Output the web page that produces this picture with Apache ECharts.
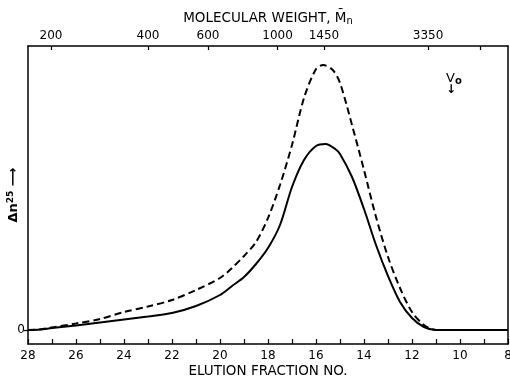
<!DOCTYPE html>
<html>
<head>
<meta charset="utf-8">
<script src="https://cdn.jsdelivr.net/npm/echarts@6/dist/echarts.min.js"></script>
<style>
  html, body { margin: 0; padding: 0; background: #fff; }
  #chart { width: 510px; height: 377px; }
</style>
</head>
<body>
<div id="chart"></div>
<script>
// elution fraction no. (x) and refractive index difference (arbitrary units)
const solidFractions = [28, 27.5, 27, 26, 25, 24, 23, 22, 21, 20, 19.5, 19, 18.5, 18, 17.5, 17, 16.5, 16, 15.6, 15.2, 15, 14.5, 14, 13.5, 13, 12.5, 12, 11.5, 11, 10, 8];
const solidValues = [0, 0.5, 2, 4.5, 7.5, 10.5, 13.5, 17, 24, 35, 44, 53, 66, 82, 105, 143, 170, 184, 186, 181, 176, 153, 121, 85, 54, 28, 12, 3, 0, 0, 0];

const dashedFractions = [28, 27.5, 27, 26, 25, 24, 23, 22, 21, 20, 19.5, 19, 18.5, 18, 17.5, 17, 16.5, 16, 15.7, 15.3, 15, 14.5, 14, 13.5, 13, 12.5, 12, 11.5, 11, 10, 8];
const dashedValues = [0, 0.5, 2.5, 6.5, 11, 18, 23.5, 30, 40, 52, 62, 74, 88, 112, 145, 185, 232, 261, 265, 260, 247, 205, 160, 113, 73, 42, 18, 5, 0, 0, 0];

// molecular weight scale on top, positioned by elution fraction
const mwPositions = [27.04, 23.0, 20.5, 17.6, 15.67, 11.33];
const mwLabels = ['200', '400', '600', '1000', '1450', '3350'];
const mwExtraTicks = [9.17];

const font = 'DejaVu Sans';
const chart = echarts.init(document.getElementById('chart'));

const option = {
    animation: false,
    backgroundColor: '#fff',
    grid: { left: 28, right: 2, top: 46, bottom: 33, outerBoundsMode: 'none' },
    xAxis: [
        {
            type: 'value', min: 8, max: 28, interval: 1, inverse: true,
            position: 'bottom',
            name: 'ELUTION FRACTION NO.', nameLocation: 'middle', nameGap: 20, nameMoveOverlap: false,
            nameTextStyle: { fontFamily: font, fontSize: 13.5, color: '#000' },
            axisLine: { show: true, onZero: false, lineStyle: { color: '#000', width: 1.5 } },
            axisTick: { inside: true, length: 5, lineStyle: { color: '#000', width: 1.2 } },
            axisLabel: {
                margin: 6, fontFamily: font, fontSize: 12, color: '#000',
                formatter: v => (v % 2 === 0 ? String(v) : '')
            },
            splitLine: { show: false }
        },
        {
            type: 'value', min: 8, max: 28, inverse: true,
            position: 'top',
            name: '{t|MOLECULAR WEIGHT, M\u0304}{s|n}', nameLocation: 'middle', nameGap: 20, nameMoveOverlap: false,
            nameTextStyle: {
                rich: {
                    t: { fontFamily: font, fontSize: 13.5, color: '#000' },
                    s: { fontFamily: font, fontSize: 10, color: '#000', padding: [6, 0, 0, 0] }
                }
            },
            axisLine: { show: true, onZero: false, lineStyle: { color: '#000', width: 1.5 } },
            axisTick: { inside: true, length: 4, customValues: mwPositions.concat(mwExtraTicks), lineStyle: { color: '#000', width: 1.2 } },
            axisLabel: {
                margin: 4, fontFamily: font, fontSize: 12, color: '#000',
                customValues: mwPositions,
                formatter: v => {
                    let best = 0;
                    mwPositions.forEach((p, i) => { if (Math.abs(p - v) < Math.abs(mwPositions[best] - v)) best = i; });
                    return mwLabels[best];
                }
            },
            splitLine: { show: false }
        }
    ],
    yAxis: [
        {
            type: 'value', min: -14, max: 284,
            name: '{t|\u0394n}{s|25}{t| \u27f6}', nameLocation: 'middle', nameGap: 6, nameRotate: 90, nameMoveOverlap: false,
            nameTextStyle: {
                rich: {
                    t: { fontFamily: font, fontSize: 13, color: '#000', fontWeight: 'bold' },
                    s: { fontFamily: font, fontSize: 9, color: '#000', fontWeight: 'bold', padding: [0, 0, 7, 0] }
                }
            },
            axisLine: { show: true, onZero: false, lineStyle: { color: '#000', width: 1.5 } },
            axisTick: { show: true, length: 4, customValues: [0], lineStyle: { color: '#000', width: 1.2 } },
            axisLabel: { margin: 3, fontFamily: font, fontSize: 12, color: '#000', customValues: [0] },
            splitLine: { show: false }
        },
        {
            type: 'value', min: -14, max: 284, position: 'right',
            axisLine: { show: true, onZero: false, lineStyle: { color: '#000', width: 1.5 } },
            axisTick: { show: false }, axisLabel: { show: false }, splitLine: { show: false }
        }
    ],
    series: [
        {
            type: 'line', smooth: 0.3, symbol: 'none', xAxisIndex: 0, yAxisIndex: 0,
            data: solidFractions.map((f, i) => [f, solidValues[i]]),
            lineStyle: { color: '#000', width: 2 }
        },
        {
            type: 'line', smooth: 0.3, symbol: 'none', xAxisIndex: 0, yAxisIndex: 0,
            data: dashedFractions.map((f, i) => [f, dashedValues[i]]),
            lineStyle: { color: '#000', width: 2, type: [7, 4] }
        }
    ],
    graphic: [
        {
            type: 'text', left: 446, top: 72,
            style: { text: '{v|V}{o|o}', rich: { v: { fontFamily: font, fontSize: 13, fill: '#000' }, o: { fontFamily: font, fontSize: 10, fill: '#000', fontWeight: 'bold', padding: [5, 0, 0, 0] } } }
        },
        {
            type: 'text', left: 446, top: 84,
            style: { text: '\u2193', fontFamily: font, fontSize: 12, fontWeight: 'bold', fill: '#000' }
        }
    ]
};

chart.setOption(option);
</script>
</body>
</html>
